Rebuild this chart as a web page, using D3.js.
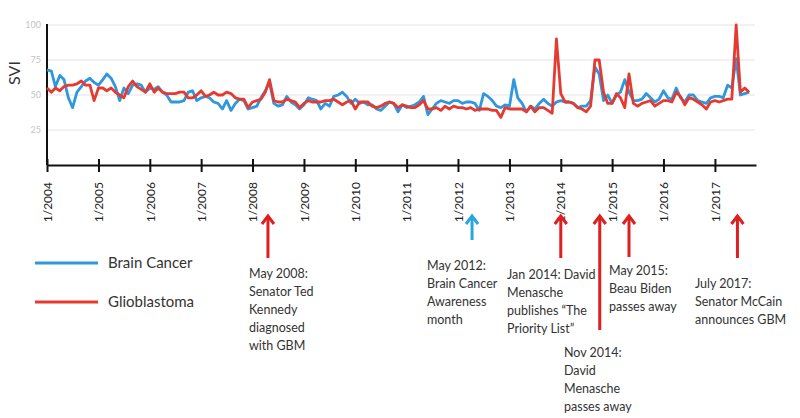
<!DOCTYPE html>
<html><head><meta charset="utf-8">
<script src="https://cdn.jsdelivr.net/npm/d3@7"></script>
<style>
body{margin:0;background:#fff;}
svg{display:block;}
text{font-family:Lato,"Open Sans",sans-serif;}
</style></head>
<body><svg id="c" width="800" height="418"></svg>
<script>
const startMonth = "2004-01";
const brainCancer = [
68,67,56,64,61,48,41,52,56,60,
62,59,57,61,65,62,56,46,55,51,
57,58,57,52,55,54,56,52,50,45,
45,45,46,52,53,46,48,49,48,45,
44,40,46,39,44,47,46,40,41,42,
48,53,59,44,42,43,49,45,43,40,
43,48,47,46,40,44,42,49,50,52,
49,44,47,44,45,43,43,40,39,42,
45,44,38,43,41,42,43,45,49,36,
40,44,46,45,44,46,46,44,45,45,
44,39,51,49,46,42,41,43,42,61,
48,44,38,42,40,44,47,44,42,45,
46,45,45,44,41,42,42,46,70,65,
46,50,44,50,52,61,52,46,46,47,
51,48,45,47,53,48,47,55,48,45,
50,50,46,45,44,48,49,49,48,57,
55,76,50,51,52];
const glioblastoma = [
55,52,55,53,56,57,57,58,60,57,
57,46,55,55,53,55,52,50,48,56,
60,56,54,52,58,52,55,52,51,51,
51,52,52,48,48,50,53,49,50,52,
50,50,52,51,48,47,47,41,45,46,
47,52,61,46,45,45,47,46,45,41,
44,46,45,45,45,46,46,47,45,43,
45,46,40,45,45,45,42,41,42,44,
45,44,41,43,42,41,41,43,46,40,
40,41,39,42,40,42,41,41,40,41,
39,40,40,40,39,39,34,41,40,40,
40,40,38,42,38,41,41,39,37,90,
51,45,45,44,41,40,38,42,75,75,
52,44,44,51,48,41,65,44,42,44,
45,46,42,44,46,46,45,52,49,43,
48,47,45,43,40,45,46,45,46,47,
47,100,52,55,52];
const yTicks = [25,50,75,100];
const seriesNames = ["Brain Cancer","Glioblastoma"];
const eventDates = ["2008-04-20","2012-04-10","2014-01-01","2014-10-05","2015-05-01","2017-06-10"];
const eventKinds = ["red","blue","red","red","red","red"];
const eventLabels = [
 ["May 2008:","Senator Ted","Kennedy","diagnosed","with GBM"],
 ["May 2012:","Brain Cancer","Awareness","month"],
 ["Jan 2014: David","Menasche","publishes \u201cThe","Priority List\u201d"],
 ["Nov 2014:","David","Menasche","passes away"],
 ["May 2015:","Beau Biden","passes away"],
 ["July 2017:","Senator McCain","announces GBM"]
];

const colors = {blue:"#2f97dc", red:"#e53a31"};
const arrowColors = {blue:"#2aa6df", red:"#dd1f1f"};
const svg = d3.select("#c");
const parseM = d3.timeParse("%Y-%m");
const parseD = d3.timeParse("%Y-%m-%d");
const t0 = parseM(startMonth);
const dates = brainCancer.map((_,i)=>d3.timeMonth.offset(t0,i));

const x = d3.scaleTime().domain([t0, new Date(2017,9,20)]).range([47,756]);
const y = d3.scaleLinear().domain([0,100]).range([165,25]);

// gridlines
svg.append("g").selectAll("line").data(yTicks).join("line")
 .attr("x1",47).attr("x2",755).attr("y1",d=>y(d)).attr("y2",d=>y(d))
 .attr("stroke","#ececec").attr("stroke-width",1.5);
// y tick labels
svg.append("g").selectAll("text").data(yTicks).join("text")
 .attr("x",41).attr("y",d=>y(d)).attr("dy","0.35em").attr("text-anchor","end")
 .attr("font-size",9).attr("fill","#c4c4c4").text(d=>d);
// y axis line
svg.append("line").attr("x1",47).attr("x2",47).attr("y1",y(100)-1).attr("y2",y(0))
 .attr("stroke","#111").attr("stroke-width",2);
svg.append("text").attr("transform","translate(20,73) rotate(-90)")
 .attr("text-anchor","middle").attr("font-size",16).attr("fill","#333").text("SVI");

// x axis
const xAxis = d3.axisBottom(x).ticks(d3.timeYear.every(1)).tickFormat(d3.timeFormat("1/%Y")).tickSizeInner(6).tickSizeOuter(0);
const gx = svg.append("g").attr("transform",`translate(0,${y(0)})`).call(xAxis);
gx.select(".domain").attr("stroke","#111").attr("stroke-width",2);
gx.selectAll(".tick line").attr("stroke","#111").attr("stroke-width",2).attr("y1",-6).attr("y2",7);
gx.selectAll(".tick text").attr("transform","rotate(-90)").attr("text-anchor","end")
 .attr("x",-17).attr("y",0).attr("dy","0.35em").attr("font-size",12)
 .attr("font-family","Lato,sans-serif").attr("fill","#222");

// lines
const line = d3.line().x((d,i)=>x(dates[i])).y(d=>y(d)).curve(d3.curveLinear);
svg.append("path").datum(brainCancer).attr("d",line).attr("fill","none")
 .attr("stroke",colors.blue).attr("stroke-width",2.8).attr("stroke-linejoin","round");
svg.append("path").datum(glioblastoma).attr("d",line).attr("fill","none")
 .attr("stroke",colors.red).attr("stroke-width",2.8).attr("stroke-linejoin","round");

// legend
const lg = svg.append("g");
const legY = [263,302];
seriesNames.forEach((n,k)=>{
  lg.append("line").attr("x1",35).attr("x2",98).attr("y1",legY[k]).attr("y2",legY[k])
    .attr("stroke",k?colors.red:colors.blue).attr("stroke-width",3);
  lg.append("text").attr("x",108).attr("y",legY[k]).attr("dy","0.35em")
    .attr("font-size",15).attr("fill","#333").text(n);
});

// arrows and annotations
const arrowBottoms = [258,240,258,330,257,258];
const labelPos = [[249,274],[427,266],[507,275],[564,353],[609,271],[695,284]];
eventDates.forEach((ds,k)=>{
  const ax = x(parseD(ds));
  const col = arrowColors[eventKinds[k]];
  const top = 215;
  const g = svg.append("g").attr("stroke",col).attr("stroke-width",3).attr("fill","none");
  g.append("line").attr("x1",ax).attr("x2",ax).attr("y1",top+1).attr("y2",arrowBottoms[k]);
  g.append("path").attr("d",`M${ax-6},${top+9}L${ax},${top+1}L${ax+6},${top+9}`)
   .attr("stroke-linejoin","miter");
  const t = svg.append("text").attr("font-size",12.5).attr("fill","#333");
  eventLabels[k].forEach((s,j)=>{
    t.append("tspan").attr("x",labelPos[k][0]).attr("y",labelPos[k][1]+18*j).attr("dy","0.35em").text(s);
  });
});
</script></body></html>
